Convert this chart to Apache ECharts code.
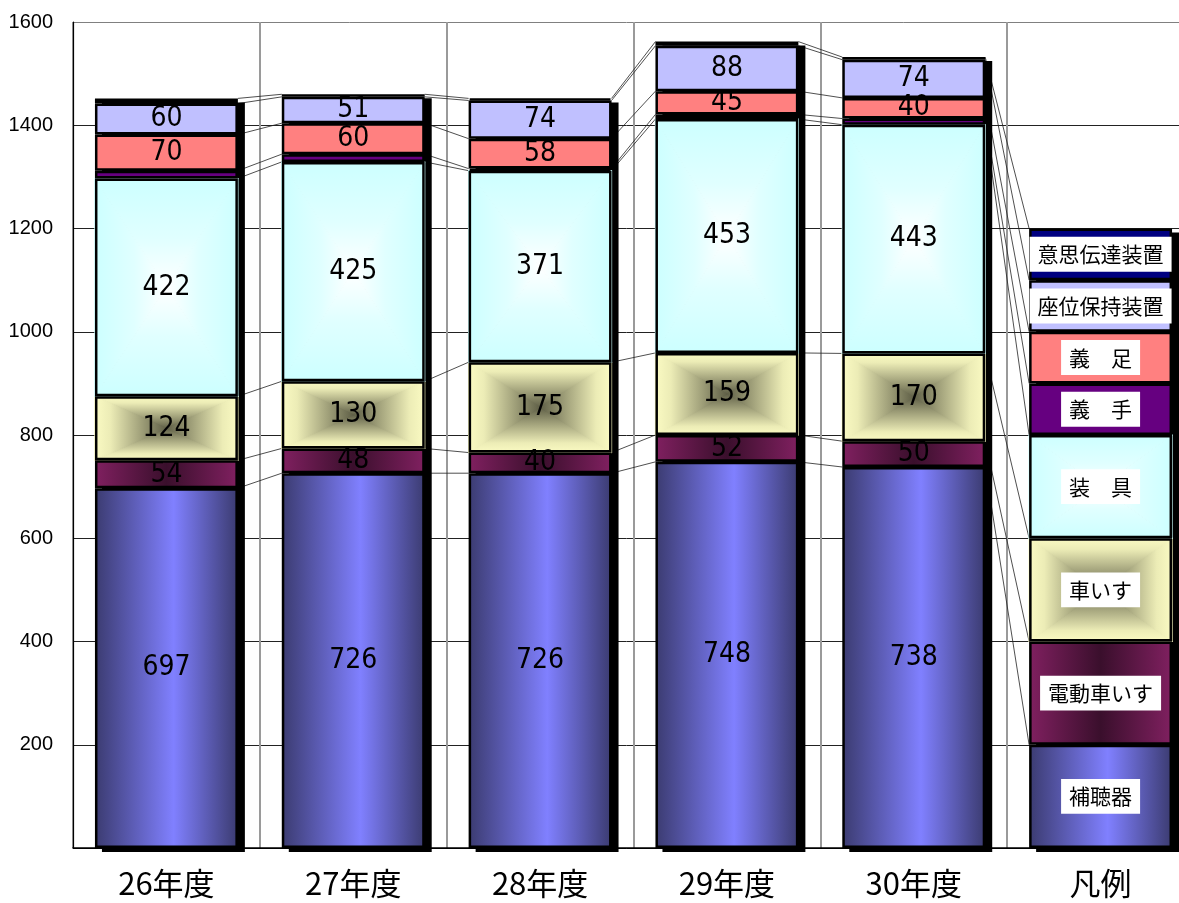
<!DOCTYPE html>
<html><head><meta charset="utf-8">
<script src="https://cdn.jsdelivr.net/npm/echarts@6/dist/echarts.min.js"></script>
<style>html,body{margin:0;padding:0;background:#fff}#c{width:1179px;height:903px}</style>
</head><body><div id="c"></div>
<script>
const categories = ['26年度','27年度','28年度','29年度','30年度','凡例'];
const seriesNames = ['補聴器','電動車いす','車いす','装具','義手','義足','座位保持装置','意思伝達装置'];
const legendLabels = ['補聴器','電動車いす','車いす','装　具','義　手','義　足','座位保持装置','意思伝達装置'];
const hearingAid = [697, 726, 726, 748, 738];
const electricWheelchair = [54, 48, 40, 52, 50];
const wheelchair = [124, 130, 175, 159, 170];
const orthosis = [422, 425, 371, 453, 443];
const prostheticHand = [15, 15, 4, 9, 12];
const prostheticLeg = [70, 60, 58, 45, 40];
const seatingDevice = [60, 51, 74, 88, 74];
const commDevice = [10, 5, 4, 8, 5];
const legendSizes = [200, 200, 200, 200, 100, 100, 100, 100];
const yMin = 0, yMax = 1600, yInterval = 200;

const yearSeries = [hearingAid, electricWheelchair, wheelchair, orthosis, prostheticHand, prostheticLeg, seatingDevice, commDevice];
const showYearLabel = [true, true, true, true, false, true, true, false];

// rectangle ("from centre") gradients: edge -> centre
const rectGrad = {
  2: [{offset:0,color:'#fbfbc3'},{offset:0.22,color:'#ececb6'},{offset:0.6,color:'#a8a880'},{offset:1,color:'#5e5e46'}],
  3: [{offset:0,color:'#ccffff'},{offset:0.55,color:'#e0ffff'},{offset:1,color:'#ffffff'}]
};

const fills = [
  {type:'linear',x:0,y:0,x2:1,y2:0,colorStops:[{offset:0,color:'#3b3b70'},{offset:0.55,color:'#8080ff'},{offset:1,color:'#3b3b70'}]},
  {type:'linear',x:0,y:0,x2:1,y2:0,colorStops:[{offset:0,color:'#802060'},{offset:0.5,color:'#3a0f2c'},{offset:1,color:'#802060'}]},
  'rgba(0,0,0,0)', 'rgba(0,0,0,0)',
  '#660080', '#ff8080', '#c0c0ff', '#000080'
];

const BAR_RATIO = 0.765;
const JP = '"Noto Sans CJK JP", "Noto Sans", sans-serif';

function catValues(ci){ return ci < 5 ? yearSeries.map(a => a[ci]) : legendSizes; }
function cumTops(ci){
  const out = []; let s = 0;
  catValues(ci).forEach(v => { s += v; out.push(s); });
  return out;
}

const barSeries = seriesNames.map((name, si) => {
  const data = yearSeries[si].map(v => ({value: v}));
  data.push({
    value: legendSizes[si],
    label: {
      show: true, formatter: legendLabels[si], fontSize: 21, fontFamily: JP, color: '#000',
      backgroundColor: '#fff', padding: [7, 8]
    }
  });
  return {
    name, type: 'bar', stack: 'total', barWidth: (BAR_RATIO*100)+'%', z: 3,
    itemStyle: {color: fills[si], borderColor: '#000', borderWidth: 2.5},
    label: {show: showYearLabel[si], position: 'inside', color: '#000', fontSize: 28,
            fontFamily: '"Liberation Sans Narrow","DejaVu Sans Condensed", sans-serif', formatter: '{c}'},
    data
  };
});

function grad(x, y, x2, y2, stops){ return {type:'linear', x, y, x2, y2, colorStops: stops}; }

const rectGradSeries = {
  type: 'custom', z: 2, silent: true,
  data: categories.map((c, i) => [i, 0]),
  renderItem(params, api){
    const i = api.value(0);
    const vals = catValues(i), tops = cumTops(i);
    const bw = api.size([1, 0])[0] * BAR_RATIO;
    const children = [];
    [2, 3].forEach(si => {
      const stops = rectGrad[si];
      const pT = api.coord([i, tops[si]]), pB = api.coord([i, tops[si] - vals[si]]);
      const L = pT[0] - bw/2, R = pT[0] + bw/2, T = pT[1], B = pB[1];
      const C = pT[0], M = (T + B) / 2;
      const tri = (pts, g) => ({type:'polygon', shape:{points: pts}, style:{fill: g, stroke: g, lineWidth: 1.2, lineJoin:'round'}});
      children.push(tri([[L,T],[R,T],[C,M]], grad(0,0,0,1,stops)));
      children.push(tri([[L,B],[R,B],[C,M]], grad(0,1,0,0,stops)));
      children.push(tri([[L,T],[L,B],[C,M]], grad(0,0,1,0,stops)));
      children.push(tri([[R,T],[R,B],[C,M]], grad(1,0,0,0,stops)));
    });
    return {type:'group', children};
  }
};

const shadowSeries = {
  type: 'custom', z: 1, silent: true,
  data: categories.map((c, i) => [i, cumTops(i)[7]]),
  renderItem(params, api){
    const i = api.value(0), tot = api.value(1);
    const top = api.coord([i, tot]);
    const bot = api.coord([i, 0]);
    const bw = api.size([1, 0])[0] * BAR_RATIO;
    return {type:'rect', shape:{x: top[0]-bw/2+7, y: top[1]+4, width: bw, height: bot[1]-top[1]}, style:{fill:'#000'}};
  }
};

const connectorSeries = {
  type: 'custom', z: 0, silent: true,
  data: [0,1,2,3,4].map(i => [i, 0]),
  renderItem(params, api){
    const i = api.value(0);
    const a = cumTops(i), b = cumTops(i+1);
    const bw = api.size([1, 0])[0] * BAR_RATIO;
    const children = a.map((v, k) => {
      const p1 = api.coord([i, v]), p2 = api.coord([i+1, b[k]]);
      return {type:'line', shape:{x1: p1[0]+bw/2, y1: p1[1], x2: p2[0]-bw/2, y2: p2[1]},
              style:{stroke:'#222', lineWidth: 0.8}};
    });
    return {type:'group', children};
  }
};

const chart = echarts.init(document.getElementById('c'), null, {renderer:'canvas'});
chart.setOption({
  animation: false,
  backgroundColor: '#fff',
  grid: {left: 73, right: -15, top: 22, bottom: 55, containLabel: false, outerBoundsMode: 'none'},
  xAxis: {
    type: 'category', data: categories, boundaryGap: true,
    axisLine: {show: true, lineStyle: {color: '#000', width: 1.5}},
    axisTick: {show: false},
    axisLabel: {color: '#000', fontSize: 31, fontFamily: JP, margin: 20, interval: 0},
    splitLine: {show: true, interval: 0, lineStyle: {color: '#9a9a9a', width: 2}}
  },
  yAxis: {
    type: 'value', min: yMin, max: yMax, interval: yInterval,
    axisLine: {show: true, lineStyle: {color: '#000', width: 1.2}},
    axisTick: {show: false},
    axisLabel: {color: '#000', fontSize: 20, fontFamily: '"Liberation Sans", Arial, sans-serif', margin: 20,
                formatter: v => v === 0 ? '' : String(v)},
    splitLine: {show: true, lineStyle: {color: ['#000','#222','#222','#222','#222','#222','#222','#222','#808080'], width: 1}}
  },
  series: [connectorSeries, shadowSeries, rectGradSeries, ...barSeries]
});
</script></body></html>
